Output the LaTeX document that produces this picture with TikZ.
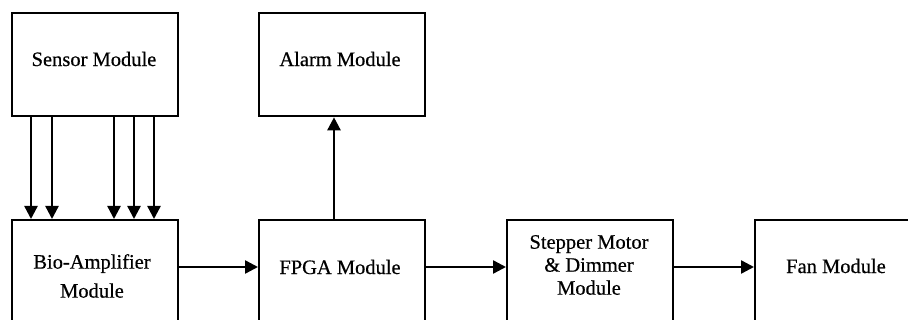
\documentclass[tikz,border=0pt]{standalone}
\usepackage{fontspec}
\setmainfont{Liberation Serif}[FakeBold=0.5]
\usetikzlibrary{arrows.meta}
\begin{document}
\begin{tikzpicture}[x=1pt,y=-1pt,
  blk/.style={draw,line width=2.3pt,rectangle,inner sep=0pt,anchor=north west,
    minimum width=166pt,minimum height=116pt},
  topblk/.style={blk,minimum height=103pt},
  lbl/.style={align=center,inner sep=0pt,font=\fontsize{20.5}{25}\selectfont},
  arr/.style={line width=2.4pt,-{Triangle[length=13pt,width=13pt]}}]
\useasboundingbox (0,0) rectangle (908,320);
\clip (0,0) rectangle (908,320);

% blocks
\node[topblk] (sensor) at (11,12) {};
\node[topblk] (alarm) at (258,12) {};
\node[blk] (bio) at (11,219) {};
\node[blk] (fpga) at (258,219) {};
\node[blk] (stepper) at (506,219) {};
\node[blk] (fan) at (754,219) {};

% block labels
\node[lbl] (sensortxt) at (94,59) {Sensor Module};
\node[lbl] (alarmtxt) at (340,59) {Alarm Module};
\node[lbl,font=\fontsize{20.5}{29}\selectfont] (biotxt) at (92,276) {Bio-Amplifier\\Module};
\node[lbl] (fpgatxt) at (340,267) {FPGA Module};
\node[lbl,font=\fontsize{20.5}{23}\selectfont] (steppertxt) at (589,265) {Stepper Motor\\\& Dimmer\\Module};
\node[lbl] (fantxt) at (836,266) {Fan Module};

% signal lines from the sensor to the amplifier
\foreach \xx in {31,52,114,134,154}
  \draw[arr] (sensor.south -| \xx,0) -- (bio.north -| \xx,0);

% FPGA to alarm
\draw[arr] (fpga.north -| 334,0) -- (alarm.south -| 334,0);

% main signal chain
\coordinate (chain) at (0,267);
\draw[arr] (bio.east |- chain) -- (fpga.west |- chain);
\draw[arr] (fpga.east |- chain) -- (stepper.west |- chain);
\draw[arr] (stepper.east |- chain) -- (fan.west |- chain);
\end{tikzpicture}
\end{document}
